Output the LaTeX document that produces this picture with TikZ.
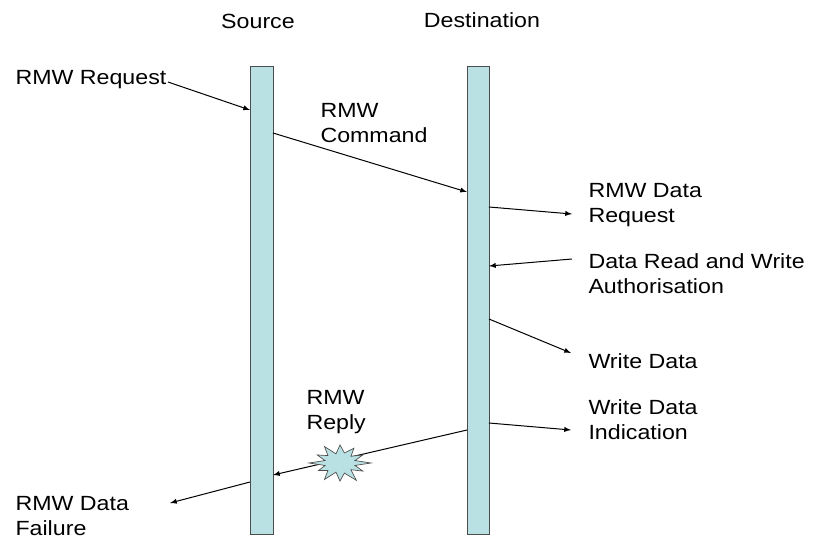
\documentclass[tikz,border=0pt]{standalone}
\usepackage{fontspec}
\setmainfont[FakeStretch=1.13]{Liberation Sans}
\usetikzlibrary{shapes, calc, arrows, positioning}
\definecolor{barblue}{RGB}{185,224,226}

\begin{document}
\begin{tikzpicture}[x=0.75pt, y=-0.75pt, >=latex, line width=0.75pt, font=\fontsize{15.4}{18.8}\selectfont]
    \useasboundingbox (0,0) rectangle (815,540);

    \coordinate (a01) at (250, 66);
    \coordinate (a02) at (273,534);
    \coordinate (a03) at (467, 66);
    \coordinate (a04) at (489,534);

    \coordinate (b01) at (168, 82);
    \coordinate (b02) at (250,110);
    \coordinate (b03) at (273,133);
    \coordinate (b04) at (467,192);
    \coordinate (b05) at (489,207);
    \coordinate (b06) at (572,214);
    \coordinate (b07) at (572,259);
    \coordinate (b08) at (489,266);
    \coordinate (b09) at (489,319);
    \coordinate (b10) at (571,353);
    \coordinate (b11) at (489,423);
    \coordinate (b12) at (571,430);
    \coordinate (b13) at (467,430);
    \coordinate (b14) at (273,475);
    \coordinate (b15) at (250,482);
    \coordinate (b16) at (170,503);

    \coordinate (s01) at (340,463);

    \coordinate (l01) at (258, 21);
    \coordinate (l02) at (482, 20);
    \coordinate (l03) at ( 15, 80);
    \coordinate (l04) at (320,123);
    \coordinate (l05) at (588,205);
    \coordinate (l06) at (588,274);
    \coordinate (l07) at (588,361);
    \coordinate (l08) at (588,420);
    \coordinate (l09) at (306,412);
    \coordinate (l10) at ( 15,516);

    \draw[draw=gray!60!black, fill=barblue] (a01) rectangle (a02);
    \draw[draw=gray!60!black, fill=barblue] (a03) rectangle (a04);

    \node (src) at (l01) {Source};
    \node (dst) at (l02) {Destination};
    \node[align=left, inner sep=0, anchor=west] (rq) at (l03) {RMW Request};
    \node[align=left, inner sep=0, anchor=west] (cmd) at (l04) {RMW\\Command};
    \node[align=left, inner sep=0, anchor=west] (drq) at (l05) {RMW Data\\Request};
    \node[align=left, inner sep=0, anchor=west] (auth) at (l06) {Data Read and Write\\Authorisation};
    \node[align=left, inner sep=0, anchor=west] (wd) at (l07) {Write Data};
    \node[align=left, inner sep=0, anchor=west] (wdi) at (l08) {Write Data\\Indication};
    \node[align=left, inner sep=0, anchor=west] (rpl) at (l09) {RMW\\Reply};
    \node[align=left, inner sep=0, anchor=west] (fail) at (l10) {RMW Data\\Failure};

    \draw[->] (b01) -- (b02);
    \draw[->] (b03) -- (b04);
    \draw[->] (b05) -- (b06);
    \draw[->] (b07) -- (b08);
    \draw[->] (b09) -- (b10);
    \draw[->] (b11) -- (b12);
    \draw[->] (b13) -- (b14);
    \draw[->] (b15) -- (b16);

    % burst on the reply
    \begin{scope}[shift={(s01)}]
      \draw[draw=gray!60!black, fill=barblue, line width=0.5pt] (0:31 and 19)
        \foreach \a/\f in {15/0.5, 30/0.85, 45/0.5, 60/1.05, 75/0.55, 90/0.95, 105/0.5,
                           120/1.0, 135/0.55, 150/0.8, 165/0.5, 180/1.0, 195/0.5, 210/0.85,
                           225/0.55, 240/1.0, 255/0.5, 270/0.95, 285/0.55, 300/0.9, 315/0.5,
                           330/0.85, 345/0.5} {-- (\a:{31*\f} and {19*\f})} -- cycle;
    \end{scope}
  \end{tikzpicture}
\end{document}
